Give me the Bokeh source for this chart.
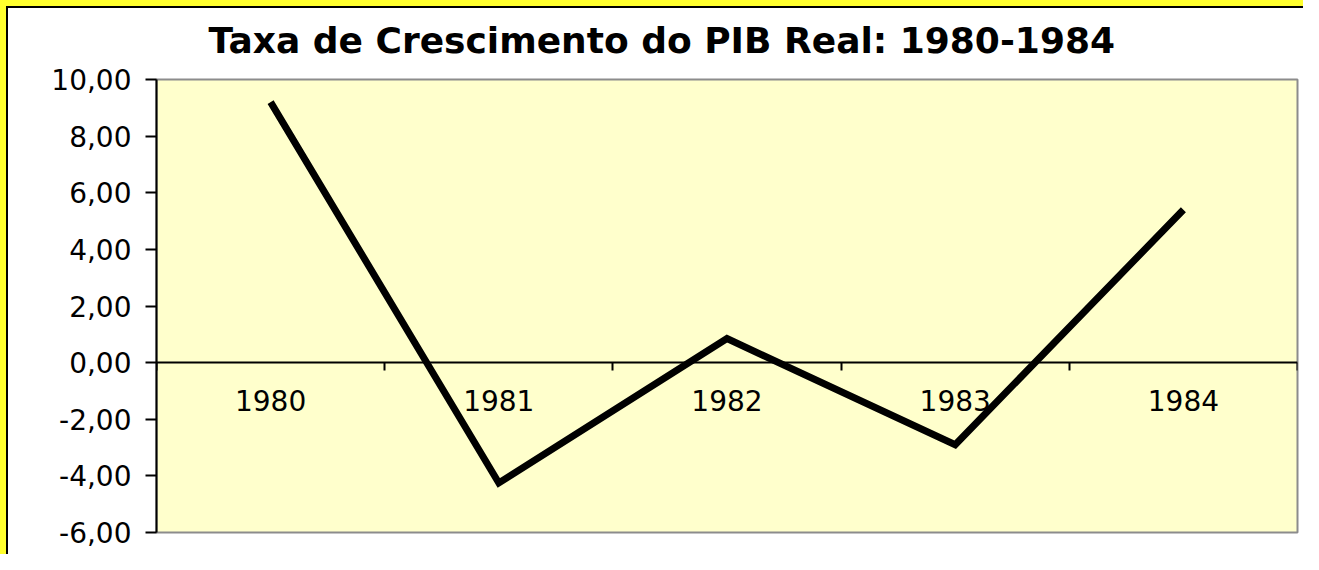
from bokeh.plotting import figure
from bokeh.models import (FactorRange, Range1d, LinearAxis, CategoricalAxis,
                          FixedTicker, CustomJSTickFormatter, Title)
from bokeh.embed import file_html
from bokeh.resources import INLINE

years = ["1980", "1981", "1982", "1983", "1984"]
growth = [9.2, -4.25, 0.85, -2.9, 5.4]
y_ticks = [-6, -4, -2, 0, 2, 4, 6, 8, 10]
boundary_ticks = [0, 1, 2, 3, 4, 5]
title_text = "Taxa de Crescimento do PIB Real: 1980-1984"

FONT = "DejaVu Sans"
W, H = 1303, 554

p = figure(width=W, height=H,
           x_range=FactorRange(*years, range_padding=0),
           y_range=Range1d(-6, 10),
           output_backend="svg", toolbar_location=None,
           x_axis_location=None, y_axis_location=None,
           min_border_left=156, min_border_right=6,
           min_border_top=79, min_border_bottom=22)

p.background_fill_color = "#FFFFCC"
p.border_fill_color = None
p.outline_line_color = "#8C8C8C"
p.outline_line_width = 2
p.grid.visible = False
p.styles = {"box-shadow": "inset 6px 6px 0 0 #FFFF2E, inset 8px 8px 0 0 black",
            "background-color": "white"}

yaxis = LinearAxis(ticker=FixedTicker(ticks=y_ticks),
                   formatter=CustomJSTickFormatter(code="return tick.toFixed(2).replace('.', ',');"),
                   axis_line_width=2, axis_line_color="black",
                   major_tick_out=11, major_tick_in=0, major_tick_line_width=2,
                   minor_tick_line_color=None,
                   major_label_standoff=14,
                   major_label_text_font=FONT, major_label_text_font_size="28px",
                   major_label_text_color="black")
p.add_layout(yaxis, "left")

xaxis = CategoricalAxis(fixed_location=0,
                        axis_line_width=2, axis_line_color="black",
                        major_tick_line_color=None, major_tick_out=0, major_tick_in=0,
                        minor_tick_line_color=None,
                        major_label_standoff=27,
                        major_label_text_font=FONT, major_label_text_font_size="28px",
                        major_label_text_color="black")
p.add_layout(xaxis, "below")

xticks = LinearAxis(fixed_location=0, ticker=FixedTicker(ticks=boundary_ticks),
                    formatter=CustomJSTickFormatter(code="return '';"),
                    axis_line_color=None,
                    major_tick_out=8, major_tick_in=0, major_tick_line_width=2,
                    major_tick_line_color="black",
                    minor_tick_line_color=None)
p.add_layout(xticks, "below")

p.line(x=years, y=growth, line_width=7, line_color="black",
       line_join="miter", line_cap="butt")

p.title = Title(text=title_text, align="left", offset=52, standoff=34,
                vertical_align="top",
                text_font=FONT, text_font_size="36px", text_font_style="bold",
                text_color="black")

open("out.html", "w").write(file_html(p, INLINE))
